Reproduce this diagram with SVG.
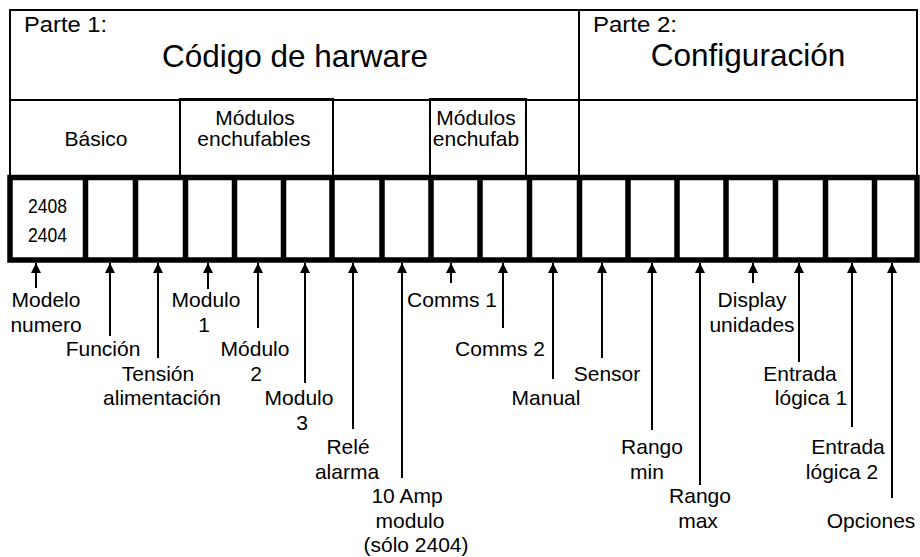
<svg xmlns="http://www.w3.org/2000/svg" width="920" height="557" viewBox="0 0 920 557">
<style>
text{font-family:"Liberation Sans",Arial,sans-serif;fill:#000}
.lb{font-size:21px;text-anchor:middle}
.ttl{font-size:31.5px;text-anchor:middle}
.pt{font-size:22px}
.thin{fill:none;stroke:#000;stroke-width:2}
.cell{fill:none;stroke:#000;stroke-width:5.5}
.sh{stroke:#000;stroke-width:2;fill:none}
</style>
<defs>
<marker id="ah" viewBox="0 0 10 10" refX="10" refY="5" markerWidth="10" markerHeight="10" markerUnits="userSpaceOnUse" orient="auto">
<path d="M0,0 L10,5 L0,10 Z" fill="#000"/>
</marker>
</defs>
<rect width="920" height="557" fill="#fff"/>
<g id="header">
<rect class="thin" x="10" y="10" width="907" height="167"/>
<line class="thin" x1="10" y1="100" x2="917" y2="100"/>
<line class="thin" x1="579" y1="10" x2="579" y2="177"/>
<text class="pt" x="24" y="32" textLength="83" lengthAdjust="spacingAndGlyphs">Parte 1:</text>
<text class="ttl" x="295" y="67">Código de harware</text>
<text class="pt" x="593" y="32" textLength="84" lengthAdjust="spacingAndGlyphs">Parte 2:</text>
<text class="ttl" x="748" y="66">Configuración</text>
</g>
<g id="basico">
<text class="lb" x="96" y="146">Básico</text>
</g>
<g id="modulos1">
<rect class="thin" x="180" y="99" width="153" height="78"/>
<text class="lb" x="255" y="125">Módulos</text>
<text class="lb" x="254" y="146">enchufables</text>
</g>
<g id="modulos2">
<rect class="thin" x="430" y="99" width="96" height="78"/>
<text class="lb" x="476" y="125">Módulos</text>
<text class="lb" x="476" y="146">enchufab</text>
</g>
<g id="cells">
<rect class="cell" x="10" y="177.5" width="907" height="82.5"/>
<path class="cell" d="M85.5,177.5V260M135.5,177.5V260M185.5,177.5V260M234.5,177.5V260M283.5,177.5V260M332,177.5V260M382,177.5V260M431,177.5V260M480,177.5V260M529.5,177.5V260M579.5,177.5V260M628,177.5V260M677,177.5V260M726,177.5V260M775.5,177.5V260M825.5,177.5V260M874.5,177.5V260"/>
<text x="47.5" y="213" font-size="20" text-anchor="middle" textLength="39" lengthAdjust="spacingAndGlyphs">2408</text>
<text x="47.5" y="242" font-size="20" text-anchor="middle" textLength="39" lengthAdjust="spacingAndGlyphs">2404</text>
</g>
<g id="connectors">
<line class="sh" x1="36" y1="288" x2="36" y2="263" marker-end="url(#ah)"/>
<line class="sh" x1="110" y1="336" x2="110" y2="263" marker-end="url(#ah)"/>
<line class="sh" x1="158" y1="358" x2="158" y2="263" marker-end="url(#ah)"/>
<line class="sh" x1="208" y1="289" x2="208" y2="263" marker-end="url(#ah)"/>
<line class="sh" x1="258" y1="328" x2="258" y2="263" marker-end="url(#ah)"/>
<line class="sh" x1="305" y1="383" x2="305" y2="263" marker-end="url(#ah)"/>
<line class="sh" x1="353" y1="429" x2="353" y2="263" marker-end="url(#ah)"/>
<line class="sh" x1="402" y1="478" x2="402" y2="263" marker-end="url(#ah)"/>
<line class="sh" x1="451" y1="283" x2="451" y2="263" marker-end="url(#ah)"/>
<line class="sh" x1="503" y1="328" x2="503" y2="263" marker-end="url(#ah)"/>
<line class="sh" x1="553" y1="379" x2="553" y2="263" marker-end="url(#ah)"/>
<line class="sh" x1="602" y1="358" x2="602" y2="263" marker-end="url(#ah)"/>
<line class="sh" x1="652" y1="430" x2="652" y2="263" marker-end="url(#ah)"/>
<line class="sh" x1="700" y1="485" x2="700" y2="263" marker-end="url(#ah)"/>
<line class="sh" x1="753" y1="283" x2="753" y2="263" marker-end="url(#ah)"/>
<line class="sh" x1="799" y1="362" x2="799" y2="263" marker-end="url(#ah)"/>
<line class="sh" x1="852" y1="427" x2="852" y2="263" marker-end="url(#ah)"/>
<line class="sh" x1="892" y1="498" x2="892" y2="263" marker-end="url(#ah)"/>
</g>
<g id="l-modelo"><text class="lb" x="46" y="307">Modelo</text><text class="lb" x="46" y="331.5">numero</text></g>
<g id="l-funcion"><text class="lb" x="103" y="356">Función</text></g>
<g id="l-tension"><text class="lb" x="158" y="380.5">Tensión</text><text class="lb" x="162" y="405">alimentación</text></g>
<g id="l-modulo1"><text class="lb" x="206" y="307">Modulo</text><text class="lb" x="204" y="331.5">1</text></g>
<g id="l-modulo2"><text class="lb" x="255" y="356">Módulo</text><text class="lb" x="256" y="380.5">2</text></g>
<g id="l-modulo3"><text class="lb" x="299" y="405">Modulo</text><text class="lb" x="302" y="429.5">3</text></g>
<g id="l-rele"><text class="lb" x="348" y="454">Relé</text><text class="lb" x="347" y="478.5">alarma</text></g>
<g id="l-10amp"><text class="lb" x="407" y="503">10 Amp</text><text class="lb" x="410" y="527.5">modulo</text><text class="lb" x="416" y="552">(sólo 2404)</text></g>
<g id="l-comms1"><text class="lb" x="452" y="307">Comms 1</text></g>
<g id="l-comms2"><text class="lb" x="500" y="356">Comms 2</text></g>
<g id="l-manual"><text class="lb" x="546" y="405">Manual</text></g>
<g id="l-sensor"><text class="lb" x="607" y="380.5">Sensor</text></g>
<g id="l-rangomin"><text class="lb" x="652" y="454">Rango</text><text class="lb" x="647" y="478.5">min</text></g>
<g id="l-rangomax"><text class="lb" x="700" y="503">Rango</text><text class="lb" x="698" y="527.5">max</text></g>
<g id="l-display"><text class="lb" x="752" y="307">Display</text><text class="lb" x="752" y="331.5">unidades</text></g>
<g id="l-entrada1"><text class="lb" x="800" y="380.5">Entrada</text><text class="lb" x="811" y="405">lógica 1</text></g>
<g id="l-entrada2"><text class="lb" x="848" y="454">Entrada</text><text class="lb" x="842" y="478.5">lógica 2</text></g>
<g id="l-opciones"><text class="lb" x="871" y="527.5">Opciones</text></g>
</svg>
